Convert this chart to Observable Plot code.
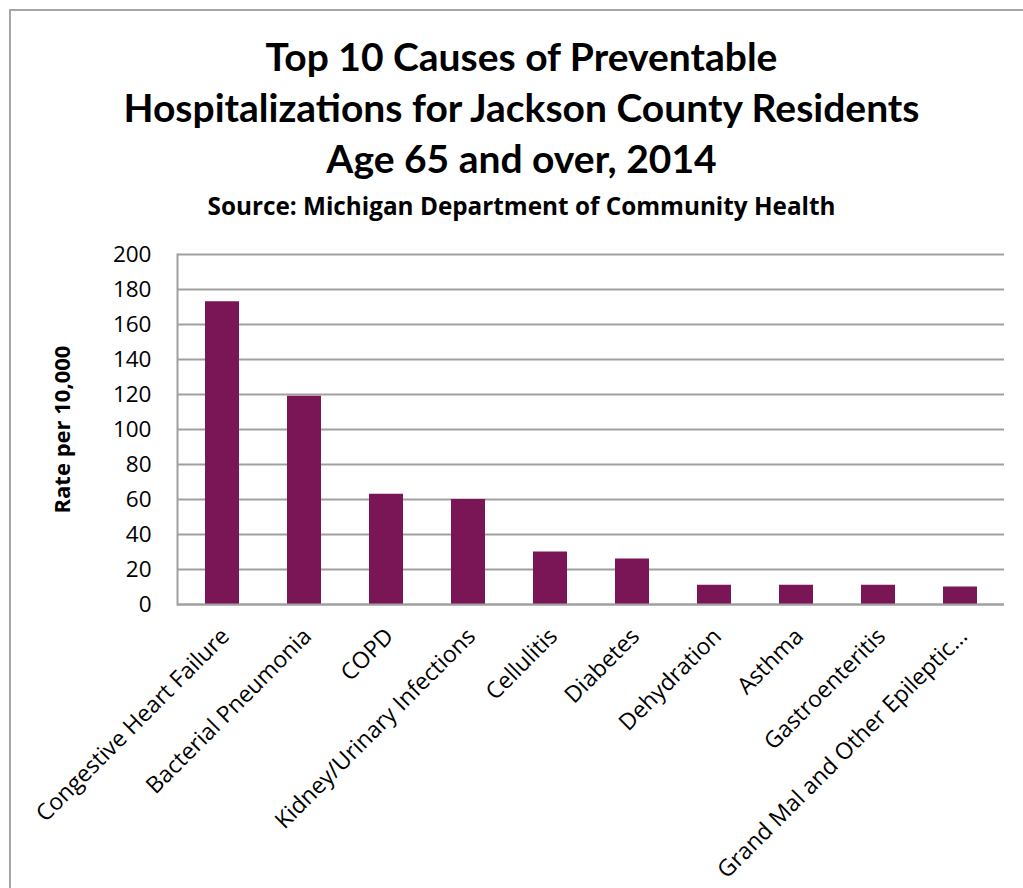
<!DOCTYPE html>
<html>
<head>
<meta charset="utf-8">
<script src="https://cdn.jsdelivr.net/npm/d3@7"></script>
<script src="https://cdn.jsdelivr.net/npm/@observablehq/plot@0.6"></script>
<style>
  html, body { margin: 0; padding: 0; background: #fff; overflow: hidden; }
  #wrap { position: relative; width: 1023px; height: 888px; }
  #frame { position: absolute; left: 9px; top: 9px; width: 1100px; height: 1000px;
           border-left: 2px solid #a6a6a6; border-top: 2px solid #a6a6a6; box-sizing: border-box; }
  #title { position: absolute; left: 0; top: 31px; width: 1043px; text-align: center;
           font-family: Lato, "Open Sans", sans-serif; font-weight: 700; font-size: 39px;
           line-height: 51px; color: #000; }
  #subtitle { position: absolute; left: 0; top: 190px; width: 1043px; text-align: center;
           font-family: "Open Sans", Lato, sans-serif; font-weight: 700; font-size: 24.3px;
           line-height: 32px; color: #000; }
  #chart { position: absolute; left: 0; top: 230px; }
</style>
</head>
<body>
<div id="wrap">
  <div id="frame"></div>
  <div id="title">Top 10 Causes of Preventable<br>Hospitalizations for Jackson County Residents<br>Age 65 and over, 2014</div>
  <div id="subtitle">Source: Michigan Department of Community Health</div>
  <div id="chart"></div>
</div>
<script>
const causes = [
  "Congestive Heart Failure",
  "Bacterial Pneumonia",
  "COPD",
  "Kidney/Urinary Infections",
  "Cellulitis",
  "Diabetes",
  "Dehydration",
  "Asthma",
  "Gastroenteritis",
  "Grand Mal and Other Epileptic…"
];
const rates = [173, 119, 63, 60, 30, 26, 11, 11, 11, 10];
const yTicks = [0, 20, 40, 60, 80, 100, 120, 140, 160, 180, 200];
const yLabel = "Rate per 10,000";

const data = causes.map((c, i) => ({cause: c, rate: rates[i]}));

const chart = Plot.plot({
  width: 1023,
  height: 658,
  marginTop: 24,
  marginBottom: 284,
  marginLeft: 177,
  marginRight: 19,
  style: {fontFamily: "'Open Sans', Lato, sans-serif", fontSize: "20px", color: "#000", background: "transparent"},
  x: {domain: causes, paddingInner: 0.59, paddingOuter: 0.295, label: null},
  y: {domain: [0, 200], label: null},
  marks: [
    Plot.gridY(yTicks, {stroke: "#a0a0a0", strokeOpacity: 1, strokeWidth: 2}),
    Plot.barY(data, {x: "cause", y: "rate", fill: "#7a1656"}),
    Plot.ruleY([0], {stroke: "#a0a0a0", strokeWidth: 2}),
    Plot.frame({anchor: "left", stroke: "#a0a0a0", strokeWidth: 2}),
    Plot.axisY(yTicks, {tickSize: 0, tickPadding: 26, fontSize: 22.5, label: null}),
    Plot.axisX({tickSize: 0, tickRotate: -45, tickPadding: 28, dx: 3, fontSize: 23, label: null}),
    Plot.text([yLabel], {frameAnchor: "left", textAnchor: "middle", dx: -115, rotate: -90, fontWeight: "bold", fontSize: 22, fill: "#000"})
  ]
});
document.getElementById("chart").appendChild(chart);
</script>
</body>
</html>
